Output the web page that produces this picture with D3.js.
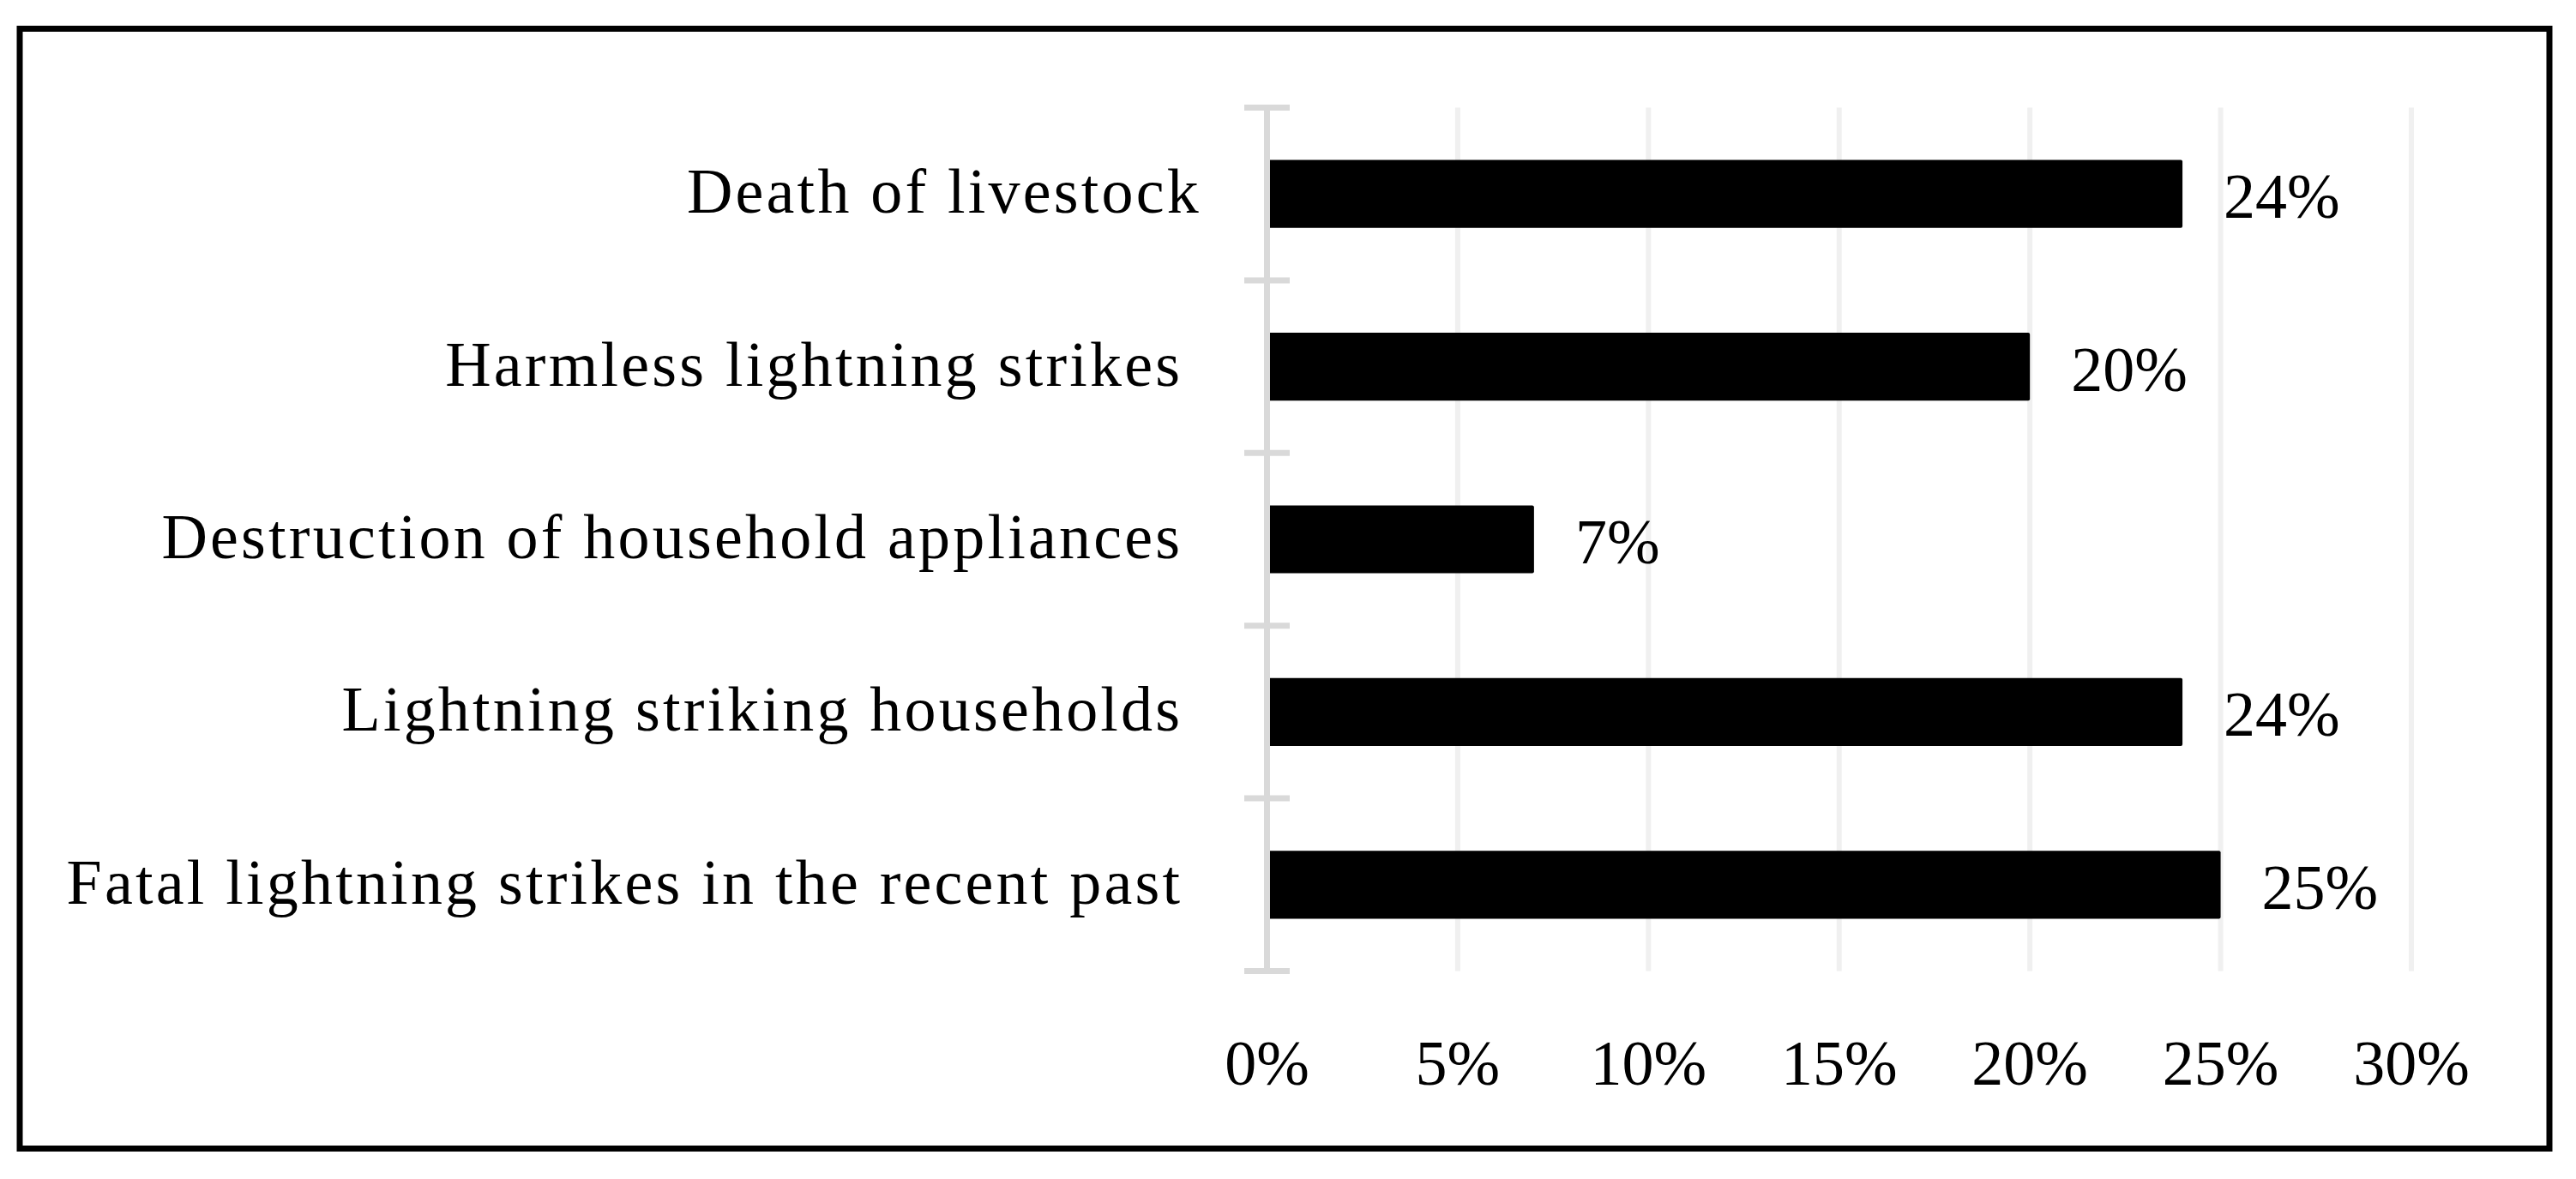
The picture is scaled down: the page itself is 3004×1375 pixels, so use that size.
<!DOCTYPE html>
<html>
<head>
<meta charset="utf-8">
<script src="https://cdn.jsdelivr.net/npm/d3@7"></script>
<style>
  html, body { margin: 0; padding: 0; background: #fff; }
  svg { display: block; }
  text { font-family: "Palatino Linotype", "Book Antiqua", Palatino, "Liberation Serif", serif; fill: #000; white-space: pre; }
</style>
</head>
<body>
<svg id="chart" width="3004" height="1375"></svg>
<script>
// ---- data ----
const categories = [
  "Death of livestock",
  "Harmless lightning strikes ",
  "Destruction of household appliances ",
  "Lightning striking households ",
  "Fatal lightning strikes in the recent past "
];
const values = [0.24, 0.20, 0.07, 0.24, 0.25];
const valueLabels = ["24%", "20%", "7%", "24%", "25%"];
const tickValues = [0, 0.05, 0.10, 0.15, 0.20, 0.25, 0.30];
const tickLabels = ["0%", "5%", "10%", "15%", "20%", "25%", "30%"];

// ---- layout ----
const W = 3004, H = 1375;
const plotLeft = 1477.5, plotRight = 2812;
const plotTop = 125.5, plotBottom = 1132.5;
const fontSize = 74;

const svg = d3.select("#chart");

svg.append("rect").attr("x", 0).attr("y", 0).attr("width", W).attr("height", H).attr("fill", "#fff");

// frame
svg.append("rect")
  .attr("x", 23).attr("y", 33.5)
  .attr("width", 2950).attr("height", 1306)
  .attr("fill", "none").attr("stroke", "#000").attr("stroke-width", 7);

const x = d3.scaleLinear().domain([0, 0.30]).range([plotLeft, plotRight]);
const y = d3.scaleBand().domain(categories).range([plotTop, plotBottom])
  .paddingInner(0.607).paddingOuter(0.3035);

// gridlines
svg.append("g").selectAll("line")
  .data(tickValues.filter(d => d > 0))
  .join("line")
  .attr("x1", d => x(d)).attr("x2", d => x(d))
  .attr("y1", plotTop).attr("y2", plotBottom)
  .attr("stroke", "#f0f0f0").attr("stroke-width", 6);

// bars
svg.append("g").selectAll("rect")
  .data(categories)
  .join("rect")
  .attr("x", x(0))
  .attr("y", d => y(d))
  .attr("width", (d, i) => x(values[i]) - x(0))
  .attr("height", y.bandwidth())
  .attr("rx", 2).attr("ry", 2)
  .attr("fill", "#000");

// category axis line + ticks
const step = y.step();
svg.append("line")
  .attr("x1", x(0)).attr("x2", x(0))
  .attr("y1", plotTop).attr("y2", plotBottom)
  .attr("stroke", "#d9d9d9").attr("stroke-width", 7);
const boundaries = d3.range(categories.length + 1).map(i => plotTop + i * step);
svg.append("g").selectAll("line")
  .data(boundaries)
  .join("line")
  .attr("x1", x(0) - 26.5).attr("x2", x(0) + 26.5)
  .attr("y1", d => d).attr("y2", d => d)
  .attr("stroke", "#d9d9d9").attr("stroke-width", 7);

// category labels
svg.append("g").selectAll("text")
  .data(categories)
  .join("text")
  .attr("x", 1401)
  .attr("y", d => y(d) + y.bandwidth() / 2 + 22)
  .attr("text-anchor", "end")
  .attr("font-size", fontSize)
  .attr("letter-spacing", "3.2px")
  .text(d => d);

// value labels
svg.append("g").selectAll("text")
  .data(categories)
  .join("text")
  .attr("x", (d, i) => x(values[i]) + 48)
  .attr("y", d => y(d) + y.bandwidth() / 2 + 28)
  .attr("text-anchor", "start")
  .attr("font-size", fontSize)
  .text((d, i) => valueLabels[i]);

// x tick labels
svg.append("g").selectAll("text")
  .data(tickValues)
  .join("text")
  .attr("x", d => x(d))
  .attr("y", 1265)
  .attr("text-anchor", "middle")
  .attr("font-size", fontSize)
  .text((d, i) => tickLabels[i]);
</script>
</body>
</html>
